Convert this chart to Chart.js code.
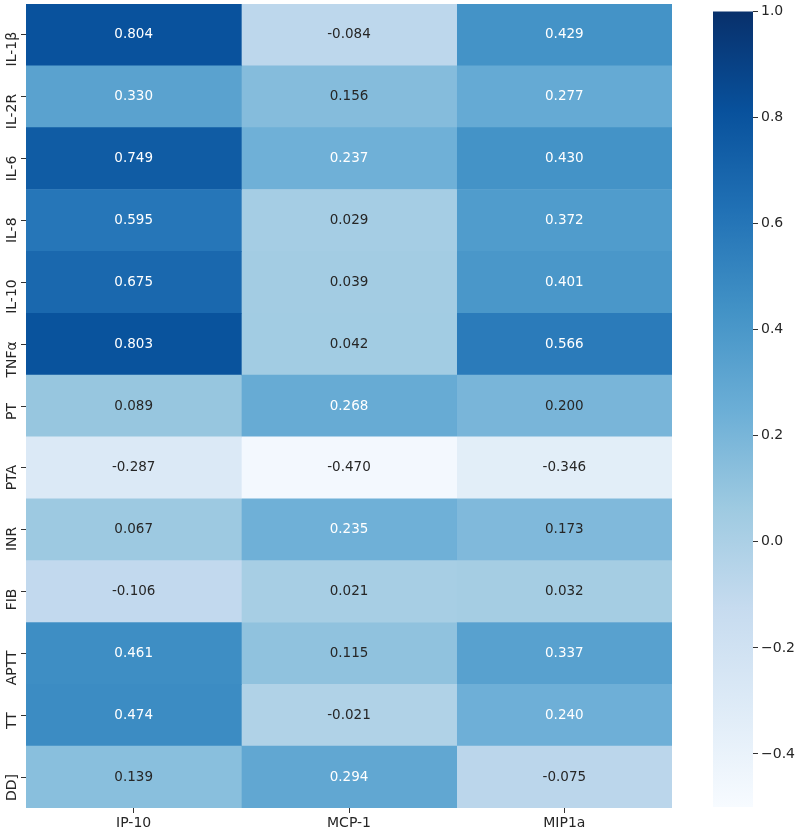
<!DOCTYPE html>
<html lang="en">
<head>
  <meta charset="UTF-8">
  <title>Correlation heatmap</title>
  <script src="https://cdn.jsdelivr.net/npm/chart.js"></script>
  <style>
    body { margin: 0; background: #fff; }
    #wrap { position: relative; width: 797px; height: 830px; }
    #heat { position: absolute; left: 0; top: 0; }
    #cbar { position: absolute; left: 700px; top: 0; }
  </style>
</head>
<body>
  <div id="wrap">
    <canvas id="heat" width="700" height="830"></canvas>
    <canvas id="cbar" width="97" height="830"></canvas>
  </div>
  <script>
    // data
    const rows = ['IL-1β', 'IL-2R', 'IL-6', 'IL-8', 'IL-10', 'TNFα', 'PT', 'PTA', 'INR', 'FIB', 'APTT', 'TT', 'DD]'];
    const cols = ['IP-10', 'MCP-1', 'MIP1a'];
    const ip10 = [0.804, 0.330, 0.749, 0.595, 0.675, 0.803, 0.089, -0.287, 0.067, -0.106, 0.461, 0.474, 0.139];
    const mcp1 = [-0.084, 0.156, 0.237, 0.029, 0.039, 0.042, 0.268, -0.470, 0.235, 0.021, 0.115, -0.021, 0.294];
    const mip1a = [0.429, 0.277, 0.430, 0.372, 0.401, 0.566, 0.200, -0.346, 0.173, 0.032, 0.337, 0.240, -0.075];
    const cbarTicks = [-0.4, -0.2, 0.0, 0.2, 0.4, 0.6, 0.8, 1.0];
    const vmin = -0.5, vmax = 1.0;

    const FONT = 'DejaVu Sans';
    const blues = ['#f7fbff', '#deebf7', '#c6dbef', '#9ecae1', '#6baed6', '#4292c6', '#2171b5', '#08519c', '#08306b'];
    const rgb = blues.map(h => [1, 3, 5].map(i => parseInt(h.substr(i, 2), 16)));

    function colorFor(v) {
      let t = Math.min(1, Math.max(0, (v - vmin) / (vmax - vmin))) * 8;
      let i = Math.min(7, Math.floor(t));
      let f = t - i;
      return rgb[i].map((c, k) => Math.round(c + (rgb[i + 1][k] - c) * f));
    }
    function css(c) { return 'rgb(' + c.join(',') + ')'; }
    function textColor(c) {
      const lin = c.map(x => { x /= 255; return x <= 0.03928 ? x / 12.92 : Math.pow((x + 0.055) / 1.055, 2.4); });
      const lum = 0.2126 * lin[0] + 0.7152 * lin[1] + 0.0722 * lin[2];
      return lum > 0.408 ? '#262626' : '#ffffff';
    }

    const series = [ip10, mcp1, mip1a];

    // value labels inside the cells
    const annotate = {
      id: 'annotate',
      afterDatasetsDraw(chart) {
        const ctx = chart.ctx;
        ctx.save();
        ctx.font = '13.5px "' + FONT + '"';
        ctx.textAlign = 'center';
        ctx.textBaseline = 'middle';
        series.forEach((vals, j) => {
          chart.getDatasetMeta(j).data.forEach((bar, i) => {
            const p = bar.getCenterPoint();
            ctx.fillStyle = textColor(colorFor(vals[i]));
            ctx.fillText(vals[i].toFixed(3), p.x, p.y);
          });
        });
        ctx.restore();
      }
    };

    // vertical row labels, placed like matplotlib does it
    const rowLabels = {
      id: 'rowLabels',
      afterDraw(chart) {
        const ctx = chart.ctx;
        const y = chart.scales.y;
        ctx.save();
        ctx.font = '14px "' + FONT + '"';
        ctx.fillStyle = '#262626';
        ctx.textAlign = 'right';
        ctx.textBaseline = 'alphabetic';
        rows.forEach((r, i) => {
          ctx.save();
          ctx.translate(16, y.getPixelForValue(i) - 3);
          ctx.rotate(-Math.PI / 2);
          ctx.fillText(r, 0, 0);
          ctx.restore();
        });
        ctx.restore();
      }
    };

    new Chart(document.getElementById('heat'), {
      type: 'bar',
      data: {
        labels: rows,
        datasets: series.map((vals, j) => ({
          data: vals.map(() => [j, j + 1]),
          backgroundColor: vals.map(v => css(colorFor(v))),
          borderWidth: 0,
          barPercentage: 1,
          categoryPercentage: 1,
          grouped: false
        }))
      },
      options: {
        indexAxis: 'y',
        responsive: false,
        animation: false,
        layout: { padding: { top: 4, right: 28, left: 0, bottom: 0 } },
        plugins: { legend: { display: false }, tooltip: { enabled: false } },
        scales: {
          x: {
            type: 'linear', min: 0, max: 3, position: 'bottom',
            afterBuildTicks: s => { s.ticks = cols.map((c, i) => ({ value: i + 0.5 })); },
            afterFit: s => { s.height = 22; },
            ticks: {
              callback: (v, i) => cols[i],
              font: { family: FONT, size: 14 },
              color: '#262626',
              padding: 2,
              autoSkip: false,
              maxRotation: 0
            },
            grid: { drawOnChartArea: false, drawTicks: true, tickLength: 5, color: '#333' },
            border: { display: false }
          },
          y: {
            type: 'category', position: 'left', offset: true,
            afterFit: s => { s.width = 26; },
            ticks: { display: false },
            grid: { offset: false, drawOnChartArea: false, drawTicks: true, tickLength: 5, color: '#333' },
            border: { display: false }
          }
        }
      },
      plugins: [annotate, rowLabels]
    });

    // colour bar
    new Chart(document.getElementById('cbar'), {
      type: 'bar',
      data: {
        labels: ['cbar'],
        datasets: [{
          data: [[vmin, vmax]],
          backgroundColor: (c) => {
            const a = c.chart.chartArea;
            if (!a) return null;
            const g = c.chart.ctx.createLinearGradient(0, a.bottom, 0, a.top);
            blues.forEach((b, k) => g.addColorStop(k / 8, b));
            return g;
          },
          borderWidth: 0,
          barPercentage: 1,
          categoryPercentage: 1
        }]
      },
      options: {
        responsive: false,
        animation: false,
        layout: { padding: { top: 4, left: 13, bottom: 23, right: 0 } },
        plugins: { legend: { display: false }, tooltip: { enabled: false } },
        scales: {
          x: { display: false },
          y: {
            position: 'right', min: vmin, max: vmax,
            afterBuildTicks: s => { s.ticks = cbarTicks.map(v => ({ value: v })); },
            afterFit: s => { s.width = 44; },
            ticks: {
              callback: v => v.toFixed(1).replace('-', '\u2212'),
              font: { family: FONT, size: 14 },
              color: '#262626',
              padding: 3
            },
            grid: { drawOnChartArea: false, drawTicks: true, tickLength: 5, color: '#333' },
            border: { display: false }
          }
        }
      }
    });
  </script>
</body>
</html>
